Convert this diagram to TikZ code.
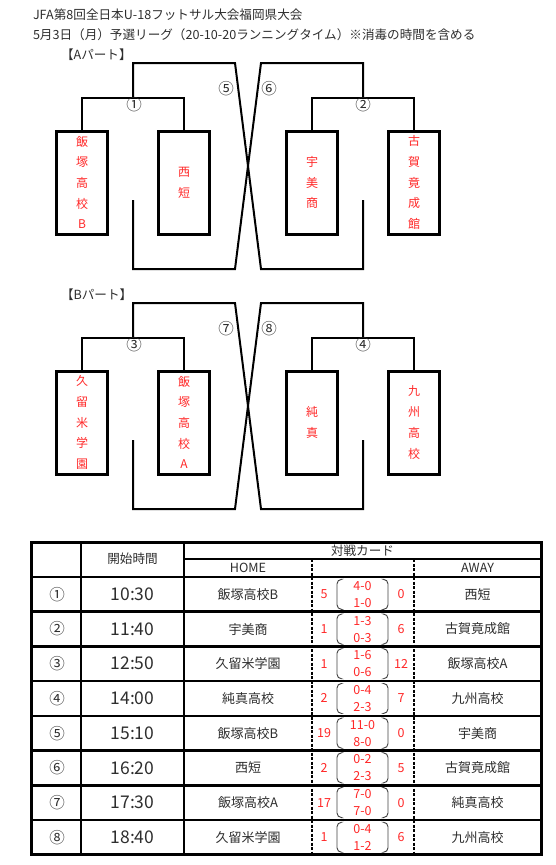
\documentclass[tikz,border=0pt]{standalone}
\usepackage{fontspec}
\setmainfont{Noto Sans CJK JP}
\usetikzlibrary{positioning}
\definecolor{txt}{HTML}{2E2E2E}
\definecolor{rd}{HTML}{FF2828}

\begin{document}
\begin{tikzpicture}[x=1pt, y=-1pt,
  font=\fontsize{12.6}{14}\selectfont, text=txt,
  lb/.style={inner sep=0pt, outer sep=0pt},
  team/.style={draw=black, line width=3pt, minimum width=51pt, minimum height=103pt,
    inner sep=0pt, text=rd, align=center, font=\fontsize{12}{20.7}\selectfont},
  bk/.style={draw=black, line width=2pt},
  num/.style={inner sep=0pt, font=\fontsize{15.5}{17}\selectfont},
  tb/.style={draw=black, line width=3pt},
  rw/.style={draw=black, line width=2.6pt},
  cl/.style={draw=black, line width=2pt},
  dsh/.style={draw=black, line width=1.5pt, dash pattern=on 3pt off 1.5pt},
  par/.style={draw=black!75, line width=0.9pt, rounded corners=4.5pt},
  tmf/.style={font=\fontsize{17.5}{20}\selectfont},
  nm/.style={font=\fontsize{13}{15}\selectfont},
  sc/.style={text=rd, font=\fontsize{12.5}{14}\selectfont}]
  \useasboundingbox (0,0) rectangle (556,865);
  % titulo
  \node[lb, anchor=west] (t1) at (33,15) {JFA第8回全日本U-18フットサル大会福岡県大会};
  \node[lb, anchor=west] (t2) at (33,35) {5月3日（月）予選リーグ（20-10-20ランニングタイム）※消毒の時間を含める};
  % Aパート
  \node[lb, anchor=west] (pa) at (61,55) {【Aパート】};
  \node[team] (a1) at (82,182.5)  {飯\\塚\\高\\校\\B};
  \node[team] (a2) at (184,182.5) {西\\短};
  \node[team] (a3) at (312,182.5) {宇\\美\\商};
  \node[team] (a4) at (414,182.5) {古\\賀\\竟\\成\\館};
  \coordinate (m1) at (133,98);  \coordinate (m2) at (363,98);
  \coordinate (c1) at (133,63);  \coordinate (c2) at (235,63);
  \coordinate (c3) at (261,63);  \coordinate (c4) at (363,63);
  \coordinate (d1) at (133,200); \coordinate (d2) at (133,269);
  \coordinate (d3) at (235,269); \coordinate (d4) at (261,269);
  \coordinate (d5) at (363,269); \coordinate (d6) at (363,200);
  \draw[bk] (a1.north) |- (m1) -| (a2.north);
  \draw[bk] (a3.north) |- (m2) -| (a4.north);
  \draw[bk] (m1) -- (c1) -- (c2) -- (d4) -- (d5) -- (d6);
  \draw[bk] (m2) -- (c4) -- (c3) -- (d3) -- (d2) -- (d1);
  \node[num] (n1) at (134,105) {①};
  \node[num] (n2) at (363,105) {②};
  \node[num] (n5) at (226,89)  {⑤};
  \node[num] (n6) at (269,89)  {⑥};
  % Bパート
  \node[lb, anchor=west] (pb) at (61,295) {【Bパート】};
  \node[team] (b1) at (82,422.5)  {久\\留\\米\\学\\園};
  \node[team] (b2) at (184,422.5) {飯\\塚\\高\\校\\A};
  \node[team] (b3) at (312,422.5) {純\\真};
  \node[team] (b4) at (414,422.5) {九\\州\\高\\校};
  \coordinate (m3) at (133,338);  \coordinate (m4) at (363,338);
  \coordinate (c5) at (133,303);  \coordinate (c6) at (235,303);
  \coordinate (c7) at (261,303);  \coordinate (c8) at (363,303);
  \coordinate (d7) at (133,440);  \coordinate (d8) at (133,509);
  \coordinate (d9) at (235,509);  \coordinate (d10) at (261,509);
  \coordinate (d11) at (363,509); \coordinate (d12) at (363,440);
  \draw[bk] (b1.north) |- (m3) -| (b2.north);
  \draw[bk] (b3.north) |- (m4) -| (b4.north);
  \draw[bk] (m3) -- (c5) -- (c6) -- (d10) -- (d11) -- (d12);
  \draw[bk] (m4) -- (c8) -- (c7) -- (d9) -- (d8) -- (d7);
  \node[num] (n3) at (134,345) {③};
  \node[num] (n4) at (363,345) {④};
  \node[num] (n7) at (226,329) {⑦};
  \node[num] (n8) at (269,329) {⑧};
  % tabla
  \draw[cl] (81,542) -- (81,854.6);
  \draw[cl] (184,542) -- (184,854.6);
  \draw[line width=1.5pt] (184,559) -- (541,559);
  \draw[dsh] (312,559) -- (312,854.6);
  \draw[dsh] (414,559) -- (414,854.6);
  \foreach \k in {0,...,7}
    \draw[rw] (31,577+34.7*\k) -- (541,577+34.7*\k);
  \draw[tb] (31,542) rectangle (541,854.6);
  \node[lb] (hd1) at (132.5,559) {開始時間};
  \node[lb] (hd2) at (362.5,550.5) {対戦カード};
  \node[lb] (hd3) at (248,568) {HOME};
  \node[lb] (hd4) at (477.5,568) {AWAY};
  \foreach \i/\no/\tm/\hm/\hs/\sa/\sb/\as/\aw [evaluate=\i as \y using 594.35+34.7*(\i-1)] in {
    1/①/10:30/飯塚高校B/5/4-0/1-0/0/西短,
    2/②/11:40/宇美商/1/1-3/0-3/6/古賀竟成館,
    3/③/12:50/久留米学園/1/1-6/0-6/12/飯塚高校A,
    4/④/14:00/純真高校/2/0-4/2-3/7/九州高校,
    5/⑤/15:10/飯塚高校B/19/11-0/8-0/0/宇美商,
    6/⑥/16:20/西短/2/0-2/2-3/5/古賀竟成館,
    7/⑦/17:30/飯塚高校A/17/7-0/7-0/0/純真高校,
    8/⑧/18:40/久留米学園/1/0-4/1-2/6/九州高校} {
    \node[lb, num] (no\i) at (57,\y) {\no};
    \node[lb, tmf] (tm\i) at (132.5,\y) {\tm};
    \node[lb, nm] (hm\i) at (248,\y) {\hm};
    \node[lb, sc] (hs\i) at (324,\y) {\hs};
    \node[lb, sc] (sa\i) at (362.5,\y-8.5) {\sa};
    \node[lb, sc] (sb\i) at (362.5,\y+8.5) {\sb};
    \node[lb, sc] (as\i) at (401,\y) {\as};
    \node[lb, nm] (aw\i) at (477.5,\y) {\aw};
    \draw[par] (341,\y-15) -- (337,\y-15) -- (337,\y+15) -- (341,\y+15);
    \draw[par] (384,\y-15) -- (388,\y-15) -- (388,\y+15) -- (384,\y+15);
  }
\end{tikzpicture}
\end{document}
